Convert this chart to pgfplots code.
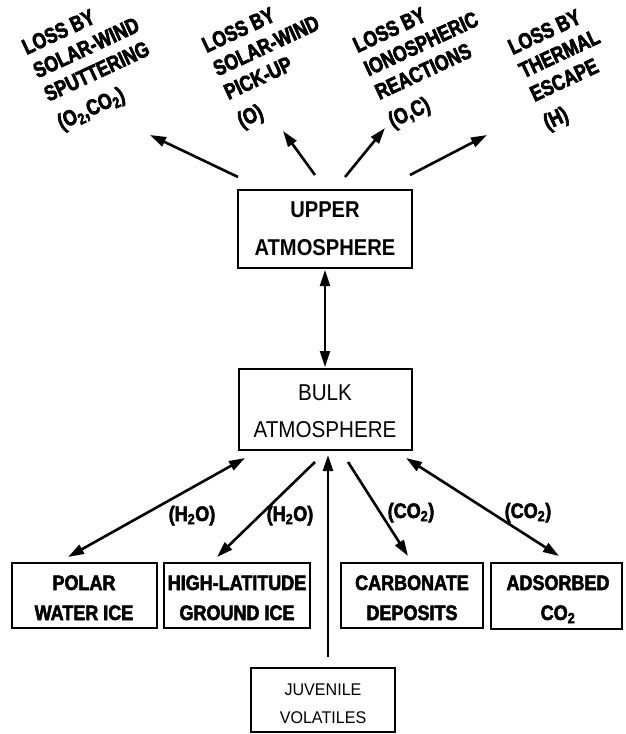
\documentclass[border=0pt]{standalone}
\usepackage{fontspec}
\setmainfont{Liberation Sans}
\newfontfamily\labfont[FakeStretch=0.8,BoldFeatures={FakeBold=3}]{Liberation Sans}
\newfontfamily\resfont[FakeStretch=0.86,BoldFeatures={FakeBold=2.5}]{Liberation Sans}
\newfontfamily\upfont[FakeStretch=0.88]{Liberation Sans}
\newfontfamily\bulkfont[FakeStretch=0.9]{Liberation Sans}
\newfontfamily\juvfont[FakeStretch=0.95]{Liberation Sans}
\usepackage{pgfplots}
\pgfplotsset{compat=1.18}
\usetikzlibrary{arrows.meta}
\tikzset{
  arr/.style={line width=2.6bp,-{Triangle[length=16bp,width=10bp]}},
  darr/.style={line width=2.6bp,{Triangle[length=16bp,width=10bp]}-{Triangle[length=16bp,width=10bp]}},
  lab/.style={overlay,anchor=north west,rotate=25,inner sep=0pt,align=left,font=\labfont\bfseries\fontsize{22}{26}\selectfont},
  blab/.style={anchor=base,inner sep=0pt,font=\resfont\bfseries\fontsize{21}{25}\selectfont},
  ulab/.style={anchor=base,inner sep=0pt,font=\upfont\bfseries\fontsize{23}{27}\selectfont},
  mlab/.style={anchor=base,inner sep=0pt,font=\bulkfont\fontsize{23}{27}\selectfont},
  jlab/.style={anchor=base,inner sep=0pt,font=\juvfont\fontsize{17}{20}\selectfont},
}
\begin{document}
\begin{tikzpicture}
\begin{axis}[width=626bp,height=734bp,scale only axis,
  xmin=0,xmax=626,ymin=0,ymax=734,y dir=reverse,
  hide axis,clip=false,no marks,
]
% frame extent
\addplot[draw=none] coordinates {(0,0) (626,734)};

% ---- loss arrows ----
\addplot[arr] coordinates {(238,177) (150,135)};
\addplot[arr] coordinates {(315,175) (283,131)};
\addplot[arr] coordinates {(345,177) (385,128)};
\addplot[arr] coordinates {(410,175) (487,135)};

% ---- rotated loss labels ----
\node[lab] at (axis cs:20,41) {LOSS BY\\SOLAR-WIND\\SPUTTERING\\[5pt](O\textsubscript{2},CO\textsubscript{2})};
\node[lab] at (axis cs:200,39) {LOSS BY\\SOLAR-WIND\\PICK-UP\\[5pt](O)};
\node[lab] at (axis cs:351,39) {LOSS BY\\IONOSPHERIC\\REACTIONS\\[5pt](O,C)};
\node[lab] at (axis cs:506,41) {LOSS BY\\THERMAL\\ESCAPE\\[5pt](H)};

% ---- upper atmosphere ----
\addplot[line width=2.6bp,line join=miter] coordinates {(238,190) (412,190) (412,268) (238,268)} --cycle;
\node[ulab] at (axis cs:325,217) {UPPER};
\node[ulab] at (axis cs:325,255) {ATMOSPHERE};

\addplot[darr,line width=1.9bp] coordinates {(325,270) (325,367)};

% ---- bulk atmosphere ----
\addplot[line width=1.8bp,line join=miter] coordinates {(239,369) (412,369) (412,450) (239,450)} --cycle;
\node[mlab] at (axis cs:325,400) {BULK};
\node[mlab] at (axis cs:325,437) {ATMOSPHERE};

% ---- exchange arrows ----
\addplot[darr] coordinates {(245,458) (68,557)};
\addplot[arr] coordinates {(315,462) (217,557)};
\addplot[arr] coordinates {(348,462) (408,556)};
\addplot[darr] coordinates {(406,458) (559,556)};
\addplot[arr] coordinates {(328,657) (328,455)};

\node[blab] at (axis cs:192,521) {(H\textsubscript{2}O)};
\node[blab] at (axis cs:290,521) {(H\textsubscript{2}O)};
\node[blab] at (axis cs:411,518) {(CO\textsubscript{2})};
\node[blab] at (axis cs:528,518) {(CO\textsubscript{2})};

% ---- reservoirs ----
\addplot[line width=2.4bp,line join=miter] coordinates {(12,563) (157,563) (157,628) (12,628)} --cycle;
\node[blab] at (axis cs:84,590) {POLAR};
\node[blab] at (axis cs:84,620) {WATER ICE};

\addplot[line width=2.4bp,line join=miter] coordinates {(164,563) (310,563) (310,628) (164,628)} --cycle;
\node[blab] at (axis cs:237,590) {HIGH-LATITUDE};
\node[blab] at (axis cs:237,620) {GROUND ICE};

\addplot[line width=2.4bp,line join=miter] coordinates {(341,563) (483,563) (483,628) (341,628)} --cycle;
\node[blab] at (axis cs:412,590) {CARBONATE};
\node[blab] at (axis cs:412,620) {DEPOSITS};

\addplot[line width=2.4bp,line join=miter] coordinates {(491,563) (622,563) (622,629) (491,629)} --cycle;
\node[blab] at (axis cs:558,590) {ADSORBED};
\node[blab] at (axis cs:558,620) {CO\textsubscript{2}};

% ---- juvenile volatiles ----
\addplot[line width=1.8bp,line join=miter] coordinates {(251,668) (395,668) (395,732) (251,732)} --cycle;
\node[jlab] at (axis cs:323,695) {JUVENILE};
\node[jlab] at (axis cs:323,723) {VOLATILES};
\end{axis}
\end{tikzpicture}
\end{document}
